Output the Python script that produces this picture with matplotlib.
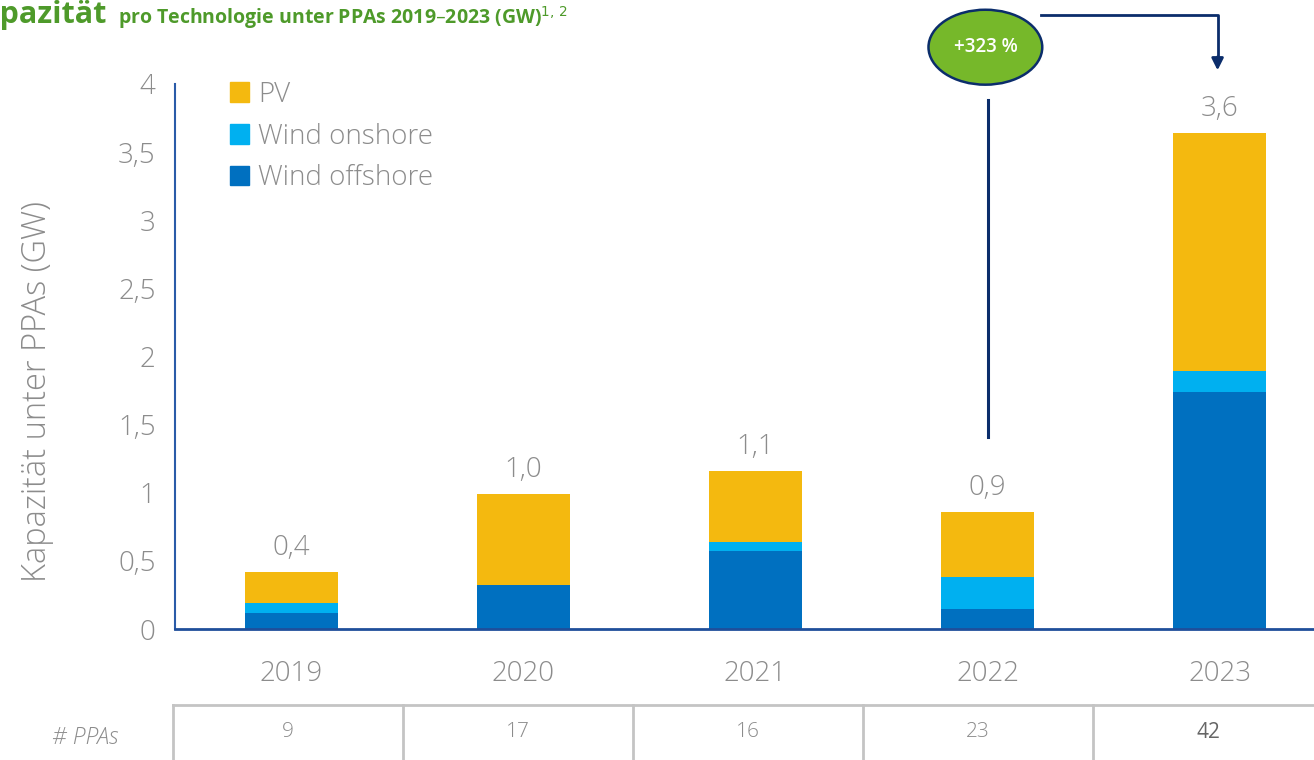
import numpy as np
import matplotlib.pyplot as plt
from matplotlib.patches import Ellipse, Patch

years = ['2019', '2020', '2021', '2022', '2023']
offshore = [0.12, 0.32, 0.57, 0.15, 1.74]
onshore = [0.07, 0.0, 0.07, 0.23, 0.15]
pv = [0.23, 0.67, 0.52, 0.48, 1.75]
totals = ['0,4', '1,0', '1,1', '0,9', '3,6']
n_ppas = ['9', '17', '16', '23', '42']

c_pv = '#F4B90F'
c_on = '#00B0F0'
c_off = '#0070C0'
grey = '#8C8C8C'
navy = '#0B2D6B'
green = '#4E9A2A'

plt.rcParams['font.family'] = ['Open Sans', 'DejaVu Sans']

W, H = 1314, 760
fig = plt.figure(figsize=(W / 100, H / 100), dpi=100)
# axes extends past the right edge, like the cropped original
ax = fig.add_axes([175 / W, 131 / H, 1161 / W, 545 / H])

x = np.arange(len(years))
off = np.array(offshore)
on = np.array(onshore)
p = np.array(pv)
ax.bar(x, off, width=0.4, color=c_off)
ax.bar(x, on, width=0.4, bottom=off, color=c_on)
ax.bar(x, p, width=0.4, bottom=off + on, color=c_pv)

top = off + on + p
for i in range(len(years)):
    ax.annotate(totals[i], (x[i], top[i]), xytext=(0, 7), textcoords='offset points',
                ha='center', va='bottom', fontsize=20, color=grey, fontweight=300)

ax.set_xlim(-0.5, 4.5)
ax.set_ylim(0, 4)
ax.set_yticks([0, 0.5, 1, 1.5, 2, 2.5, 3, 3.5, 4])
ax.set_yticklabels(['0', '0,5', '1', '1,5', '2', '2,5', '3', '3,5', '4'])
ax.set_xticks(x)
ax.set_xticklabels(years)
ax.tick_params(axis='both', length=0, labelsize=20, colors=grey)
ax.tick_params(axis='x', pad=22)
ax.tick_params(axis='y', pad=14)
for t in ax.get_xticklabels() + ax.get_yticklabels():
    t.set_fontweight(300)
for s in ['top', 'right']:
    ax.spines[s].set_visible(False)
ax.spines['left'].set_color('#2A5BA8')
ax.spines['left'].set_linewidth(1.5)
ax.spines['bottom'].set_color('#1F4E9A')
ax.spines['bottom'].set_linewidth(2)
ax.set_ylabel('Kapazität unter PPAs (GW)', fontsize=23.5, color=grey, fontweight=300)
ax.yaxis.set_label_coords(-121 / 1161, 0.435)

handles = [Patch(color=c_pv), Patch(color=c_on), Patch(color=c_off)]
ax.legend(handles, ['PV', 'Wind onshore', 'Wind offshore'], loc='upper left',
          bbox_to_anchor=(30 / 1161, 1.052), frameon=False,
          prop={'size': 20, 'weight': 300},
          handlelength=0.7, handleheight=0.7, handletextpad=0.3,
          labelspacing=0.5, labelcolor=grey)

# growth annotation
ax.plot([3, 3], [1.41, 3.88], color=navy, lw=2.2, clip_on=False)
ell = Ellipse((2.99, 4.27), 0.49, 0.55, facecolor='#76B82A', edgecolor=navy,
              lw=1.8, clip_on=False)
ax.add_patch(ell)
ax.text(2.99, 4.27, '+323 %', ha='center', va='center', color='white',
        fontsize=13.5, fontweight=600)
ax.plot([3.23, 3.99, 3.99], [4.51, 4.51, 4.2], color=navy, lw=2, clip_on=False)
ax.annotate('', xy=(3.99, 4.08), xytext=(3.99, 4.22),
            arrowprops=dict(arrowstyle='-|>,head_width=0.35,head_length=0.7',
                            color=navy, lw=2), annotation_clip=False)

# PPA count table
tl = '#C4C4C4'
fig.add_artist(plt.Line2D([173 / W, 1], [1 - 705 / H] * 2, color=tl, lw=2))
for xv in [173, 403, 633, 863, 1093]:
    fig.add_artist(plt.Line2D([xv / W] * 2, [0, 1 - 705 / H], color=tl, lw=2))
cols = [288, 518, 748, 978, 1208]
for i in range(len(n_ppas)):
    last = i == len(n_ppas) - 1
    fig.text(cols[i] / W, 1 - 732 / H, n_ppas[i], ha='center', va='center',
             fontsize=15, color='#666666' if last else grey,
             fontweight='normal' if last else 300)
fig.text(85 / W, 1 - 738 / H, '# PPAs', ha='center', va='center', fontsize=16.5,
         color=grey, style='italic', fontweight=300)

# title (cut at left edge)
fig.text(107 / W, 1 - 15 / H, 'Kapazität', ha='right', va='center', fontsize=22,
         color=green, fontweight='bold')
fig.text(118 / W, 1 - 18 / H, 'pro Technologie unter PPAs 2019–2023 (GW)$^{1,\\,2}$',
         ha='left', va='center', fontsize=14, color=green, fontweight='bold')

plt.savefig('out.png', dpi=100)
